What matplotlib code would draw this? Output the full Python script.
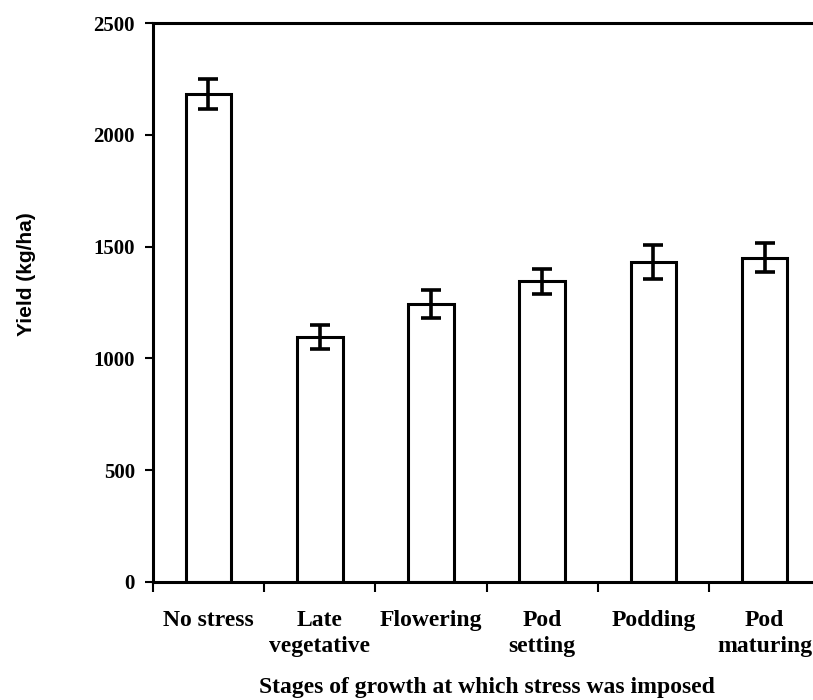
import numpy as np
import matplotlib.pyplot as plt

# data
stages = ["No stress", "Late\nvegetative", "Flowering", "Pod\nsetting", "Podding", "Pod\nmaturing"]
yield_kg = [2183, 1095, 1245, 1345, 1430, 1450]
err = [66, 55, 62, 57, 76, 65]
y_ticks = [0, 500, 1000, 1500, 2000, 2500]

plt.rcParams['font.family'] = ['Liberation Serif', 'DejaVu Serif']

fig = plt.figure(figsize=(8.13, 7.0), dpi=100)
ax = fig.add_axes([0.188, 0.1686, 0.821, 0.7984])

x = np.arange(len(stages))
ax.bar(x, yield_kg, width=0.41, color='white', edgecolor='black', linewidth=2.2,
       yerr=err, error_kw=dict(ecolor='black', elinewidth=2.6, capsize=7, capthick=2.6))

ax.set_xlim(-0.5, len(stages) - 0.5)
ax.set_ylim(0, 2500)
ax.set_yticks(y_ticks)
ax.set_yticklabels([str(v) for v in y_ticks], fontsize=15, fontweight='bold')

# category labels at bar centres, ticks at boundaries
ax.set_xticks(x)
ax.set_xticklabels(stages, fontsize=17, fontweight='bold', linespacing=1.35,
                   va='top')
ax.set_xticks(np.arange(len(stages) + 1) - 0.5, minor=True)
ax.tick_params(axis='x', which='major', length=0, pad=20)
ax.tick_params(axis='x', which='minor', length=7, width=1.5, direction='out')
ax.tick_params(axis='y', length=6, width=1.5, direction='out', pad=7)

for side in ['left', 'bottom', 'top']:
    ax.spines[side].set_linewidth(2.2)
ax.spines['right'].set_visible(False)

ax.set_xlabel("Stages of growth at which stress was imposed", fontsize=17,
              fontweight='bold', labelpad=14)
ax.set_ylabel("Yield (kg/ha)", fontsize=15, fontweight='bold',
              family=['Liberation Sans', 'DejaVu Sans'])
ax.yaxis.set_label_coords(-0.175, 0.551)

fig.savefig("out.png", dpi=100)
